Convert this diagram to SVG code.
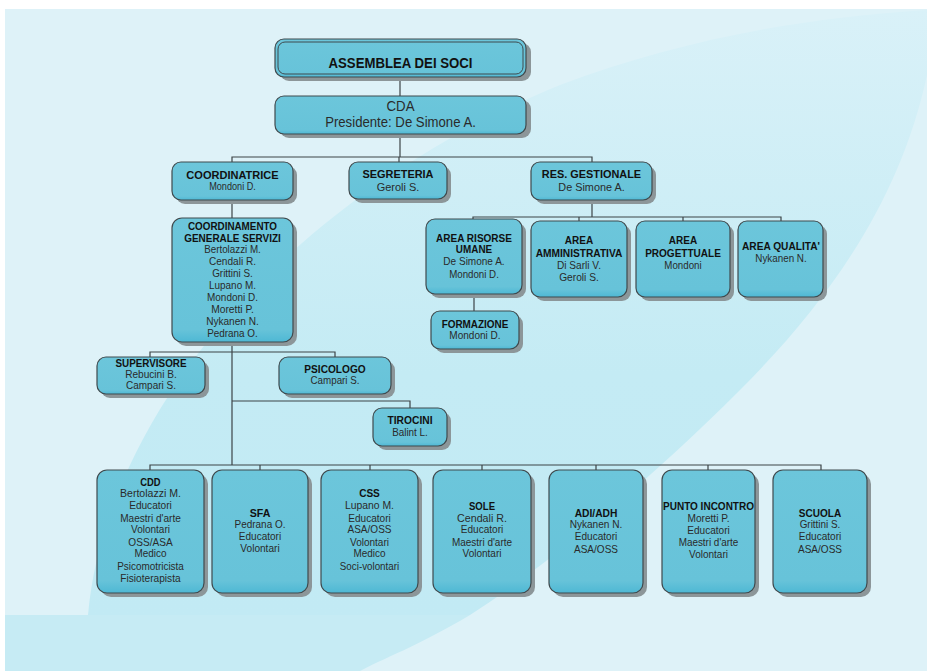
<svg xmlns="http://www.w3.org/2000/svg" width="927" height="671" viewBox="0 0 927 671">
<defs>
<linearGradient id="sw" x1="0" y1="0" x2="0" y2="1">
<stop offset="0" stop-color="#d9f1f8"/>
<stop offset="0.6" stop-color="#c4ebf4"/>
<stop offset="1" stop-color="#c2eaf4"/>
</linearGradient>
<linearGradient id="bx" x1="0" y1="0" x2="0" y2="1">
<stop offset="0" stop-color="#6cc6db"/>
<stop offset="0.9" stop-color="#67c3d9"/>
<stop offset="1" stop-color="#4eb8d4"/>
</linearGradient>
</defs>
<style>
.box{fill:url(#bx);stroke:#3f4a4e;stroke-width:1.2}
.in{fill:none;stroke:#3f4a4e;stroke-width:1}
.sh{fill:#8c9699}
.c{fill:none;stroke:#3c4447;stroke-width:1.2}
.t{font-family:"Liberation Sans",Arial,sans-serif;font-size:11px;font-weight:bold;fill:#111;text-anchor:middle}
.n{font-family:"Liberation Sans",Arial,sans-serif;font-size:10.5px;fill:#2a2a2a;text-anchor:middle}
.big{font-size:14px}
</style>
<rect x="0" y="0" width="927" height="671" fill="#ffffff"/>
<rect x="5" y="9" width="922" height="662" fill="#def2f8"/>
<path d="M5,615 L470,615 C420,645 380,660 360,671 L5,671 Z" fill="#c6ebf4"/>
<path d="M88,615 C105,420 280,200 560,85 C680,40 800,18 927,10 L927,75 C900,200 830,300 740,390 C640,490 540,570 470,615 Z" fill="url(#sw)"/>

<g id="connectors">
<path class="c" d="M400,77 V96"/>
<path class="c" d="M400,134 V157"/>
<path class="c" d="M232,162 V157 H592 V162"/>
<path class="c" d="M399,157 V162"/>
<path class="c" d="M592,200 V217"/>
<path class="c" d="M473,219 V217 H781 V221"/>
<path class="c" d="M579,217 V221"/>
<path class="c" d="M683,217 V221"/>
<path class="c" d="M474,294 V311"/>
<path class="c" d="M232,200 V218"/>
<path class="c" d="M232,342 V465"/>
<path class="c" d="M150,357 V352 H335 V357"/>
<path class="c" d="M232,401 H410 V408"/>
<path class="c" d="M150,470 V465 H821 V470"/>
<path class="c" d="M260,465 V470 M370,465 V470 M482,465 V470 M596,465 V470 M708,465 V470"/>
</g>

<g id="assemblea">
<rect class="sh" x="280" y="43" width="251" height="38" rx="9"/>
<rect class="box" x="275" y="39" width="251" height="38" rx="9"/>
<rect class="in" x="278" y="42" width="245" height="32" rx="7"/>
<text class="t big" x="400.5" y="68.3" textLength="144" lengthAdjust="spacingAndGlyphs">ASSEMBLEA DEI SOCI</text>
</g>

<g id="cda">
<rect class="sh" x="280" y="100" width="251" height="38" rx="9"/>
<rect class="box" x="275" y="96" width="251" height="38" rx="9"/>
<text class="n big" x="400.5" y="111" textLength="28" lengthAdjust="spacingAndGlyphs">CDA</text>
<text class="n big" x="400.5" y="126.7" textLength="150.7" lengthAdjust="spacingAndGlyphs">Presidente: De Simone A.</text>
</g>

<g id="coordinatrice">
<rect class="sh" x="176" y="166" width="121" height="38" rx="9"/>
<rect class="box" x="172" y="162" width="121" height="38" rx="9"/>
<text class="t" x="232.5" y="179" textLength="92.3" lengthAdjust="spacingAndGlyphs">COORDINATRICE</text>
<text class="n" x="232.5" y="190" textLength="46.7" lengthAdjust="spacingAndGlyphs">Mondoni D.</text>
</g>

<g id="segreteria">
<rect class="sh" x="353" y="166" width="98" height="37" rx="9"/>
<rect class="box" x="349" y="162" width="98" height="37" rx="9"/>
<text class="t" x="398" y="178" textLength="71" lengthAdjust="spacingAndGlyphs">SEGRETERIA</text>
<text class="n" x="398" y="190.7" textLength="42.7" lengthAdjust="spacingAndGlyphs">Geroli S.</text>
</g>

<g id="res-gestionale">
<rect class="sh" x="535" y="166" width="121" height="38" rx="9"/>
<rect class="box" x="531" y="162" width="121" height="38" rx="9"/>
<text class="t" x="591.5" y="178.3" textLength="99.3" lengthAdjust="spacingAndGlyphs">RES. GESTIONALE</text>
<text class="n" x="591.5" y="190.7" textLength="66.3" lengthAdjust="spacingAndGlyphs">De Simone A.</text>
</g>

<g id="area-risorse-umane">
<rect class="sh" x="430" y="223" width="96" height="75" rx="9"/>
<rect class="box" x="426" y="219" width="96" height="75" rx="9"/>
<text class="t" x="474" y="241.7" textLength="76" lengthAdjust="spacingAndGlyphs">AREA RISORSE</text>
<text class="t" x="474" y="253.3" textLength="36.3" lengthAdjust="spacingAndGlyphs">UMANE</text>
<text class="n" x="474" y="265" textLength="61.3" lengthAdjust="spacingAndGlyphs">De Simone A.</text>
<text class="n" x="474" y="277.7" textLength="49.7" lengthAdjust="spacingAndGlyphs">Mondoni D.</text>
</g>

<g id="area-amministrativa">
<rect class="sh" x="535" y="225" width="96" height="76" rx="9"/>
<rect class="box" x="531" y="221" width="96" height="76" rx="9"/>
<text class="t" x="579" y="244" textLength="28.3" lengthAdjust="spacingAndGlyphs">AREA</text>
<text class="t" x="579" y="256.7" textLength="86.7" lengthAdjust="spacingAndGlyphs">AMMINISTRATIVA</text>
<text class="n" x="579" y="269.3" textLength="44" lengthAdjust="spacingAndGlyphs">Di Sarli V.</text>
<text class="n" x="579" y="280.7" textLength="39.7" lengthAdjust="spacingAndGlyphs">Geroli S.</text>
</g>

<g id="area-progettuale">
<rect class="sh" x="640" y="225" width="94" height="76" rx="9"/>
<rect class="box" x="636" y="221" width="94" height="76" rx="9"/>
<text class="t" x="683" y="244" textLength="28.3" lengthAdjust="spacingAndGlyphs">AREA</text>
<text class="t" x="683" y="256.7" textLength="75.7" lengthAdjust="spacingAndGlyphs">PROGETTUALE</text>
<text class="n" x="683" y="269" textLength="37.3" lengthAdjust="spacingAndGlyphs">Mondoni</text>
</g>

<g id="area-qualita">
<rect class="sh" x="742" y="225" width="85" height="76" rx="9"/>
<rect class="box" x="738" y="221" width="85" height="76" rx="9"/>
<text class="t" x="781" y="250" textLength="78" lengthAdjust="spacingAndGlyphs">AREA QUALITA'</text>
<text class="n" x="781" y="261.7" textLength="51.3" lengthAdjust="spacingAndGlyphs">Nykanen N.</text>
</g>

<g id="formazione">
<rect class="sh" x="435" y="315" width="88" height="38" rx="9"/>
<rect class="box" x="431" y="311" width="88" height="38" rx="9"/>
<text class="t" x="475" y="327.7" textLength="66.7" lengthAdjust="spacingAndGlyphs">FORMAZIONE</text>
<text class="n" x="475" y="339.3" textLength="51.3" lengthAdjust="spacingAndGlyphs">Mondoni D.</text>
</g>

<g id="coordinamento">
<rect class="sh" x="176" y="222" width="121" height="124" rx="10"/>
<rect class="box" x="172" y="218" width="121" height="124" rx="10"/>
<text class="t" x="232.5" y="230" textLength="89" lengthAdjust="spacingAndGlyphs">COORDINAMENTO</text>
<text class="t" x="232.5" y="242" textLength="96.7" lengthAdjust="spacingAndGlyphs">GENERALE SERVIZI</text>
<text class="n" x="232.5" y="253.3" textLength="56.7" lengthAdjust="spacingAndGlyphs">Bertolazzi M.</text>
<text class="n" x="232.5" y="265.3" textLength="47" lengthAdjust="spacingAndGlyphs">Cendali R.</text>
<text class="n" x="232.5" y="277" textLength="40.7" lengthAdjust="spacingAndGlyphs">Grittini S.</text>
<text class="n" x="232.5" y="289" textLength="47" lengthAdjust="spacingAndGlyphs">Lupano M.</text>
<text class="n" x="232.5" y="300.7" textLength="51" lengthAdjust="spacingAndGlyphs">Mondoni D.</text>
<text class="n" x="232.5" y="312.7" textLength="42.7" lengthAdjust="spacingAndGlyphs">Moretti P.</text>
<text class="n" x="232.5" y="325" textLength="52.7" lengthAdjust="spacingAndGlyphs">Nykanen N.</text>
<text class="n" x="232.5" y="336.7" textLength="50.7" lengthAdjust="spacingAndGlyphs">Pedrana O.</text>
</g>

<g id="supervisore">
<rect class="sh" x="101" y="361" width="108" height="37" rx="9"/>
<rect class="box" x="97" y="357" width="108" height="37" rx="9"/>
<text class="t" x="151" y="366.7" textLength="71" lengthAdjust="spacingAndGlyphs">SUPERVISORE</text>
<text class="n" x="151" y="378.3" textLength="51.7" lengthAdjust="spacingAndGlyphs">Rebucini B.</text>
<text class="n" x="151" y="389.3" textLength="50" lengthAdjust="spacingAndGlyphs">Campari S.</text>
</g>

<g id="psicologo">
<rect class="sh" x="283" y="361" width="112" height="37" rx="9"/>
<rect class="box" x="279" y="357" width="112" height="37" rx="9"/>
<text class="t" x="335" y="372.7" textLength="61.3" lengthAdjust="spacingAndGlyphs">PSICOLOGO</text>
<text class="n" x="335" y="384.3" textLength="49" lengthAdjust="spacingAndGlyphs">Campari S.</text>
</g>

<g id="tirocini">
<rect class="sh" x="377" y="412" width="74" height="38" rx="9"/>
<rect class="box" x="373" y="408" width="74" height="38" rx="9"/>
<text class="t" x="410" y="424.3" textLength="45" lengthAdjust="spacingAndGlyphs">TIROCINI</text>
<text class="n" x="410" y="436" textLength="35.7" lengthAdjust="spacingAndGlyphs">Balint L.</text>
</g>

<g id="cdd">
<rect class="sh" x="101" y="474" width="107" height="123" rx="10"/>
<rect class="box" x="97" y="470" width="107" height="123" rx="10"/>
<text class="t" x="150.5" y="486" textLength="20.3" lengthAdjust="spacingAndGlyphs">CDD</text>
<text class="n" x="150.5" y="497.3" textLength="61" lengthAdjust="spacingAndGlyphs">Bertolazzi M.</text>
<text class="n" x="150.5" y="509.3" textLength="42.7" lengthAdjust="spacingAndGlyphs">Educatori</text>
<text class="n" x="150.5" y="521.7" textLength="60.7" lengthAdjust="spacingAndGlyphs">Maestri d'arte</text>
<text class="n" x="150.5" y="533.3" textLength="39" lengthAdjust="spacingAndGlyphs">Volontari</text>
<text class="n" x="150.5" y="546" textLength="44.3" lengthAdjust="spacingAndGlyphs">OSS/ASA</text>
<text class="n" x="150.5" y="557.3" textLength="32" lengthAdjust="spacingAndGlyphs">Medico</text>
<text class="n" x="150.5" y="570" textLength="66.7" lengthAdjust="spacingAndGlyphs">Psicomotricista</text>
<text class="n" x="150.5" y="581.7" textLength="60.3" lengthAdjust="spacingAndGlyphs">Fisioterapista</text>
</g>

<g id="sfa">
<rect class="sh" x="216" y="474" width="96" height="123" rx="10"/>
<rect class="box" x="212" y="470" width="96" height="123" rx="10"/>
<text class="t" x="260" y="516.7" textLength="20.7" lengthAdjust="spacingAndGlyphs">SFA</text>
<text class="n" x="260" y="528.3" textLength="51" lengthAdjust="spacingAndGlyphs">Pedrana O.</text>
<text class="n" x="260" y="540" textLength="42.3" lengthAdjust="spacingAndGlyphs">Educatori</text>
<text class="n" x="260" y="551.7" textLength="39.3" lengthAdjust="spacingAndGlyphs">Volontari</text>
</g>

<g id="css">
<rect class="sh" x="325" y="474" width="97" height="123" rx="10"/>
<rect class="box" x="321" y="470" width="97" height="123" rx="10"/>
<text class="t" x="369.5" y="497.3" textLength="20.7" lengthAdjust="spacingAndGlyphs">CSS</text>
<text class="n" x="369.5" y="509.3" textLength="49" lengthAdjust="spacingAndGlyphs">Lupano M.</text>
<text class="n" x="369.5" y="521.7" textLength="42.5" lengthAdjust="spacingAndGlyphs">Educatori</text>
<text class="n" x="369.5" y="533.3" textLength="44" lengthAdjust="spacingAndGlyphs">ASA/OSS</text>
<text class="n" x="369.5" y="546" textLength="39" lengthAdjust="spacingAndGlyphs">Volontari</text>
<text class="n" x="369.5" y="557.3" textLength="32" lengthAdjust="spacingAndGlyphs">Medico</text>
<text class="n" x="369.5" y="570" textLength="59.3" lengthAdjust="spacingAndGlyphs">Soci-volontari</text>
</g>

<g id="sole">
<rect class="sh" x="437" y="474" width="98" height="123" rx="10"/>
<rect class="box" x="433" y="470" width="98" height="123" rx="10"/>
<text class="t" x="482" y="510" textLength="26" lengthAdjust="spacingAndGlyphs">SOLE</text>
<text class="n" x="482" y="522" textLength="50" lengthAdjust="spacingAndGlyphs">Cendali R.</text>
<text class="n" x="482" y="533.3" textLength="42.5" lengthAdjust="spacingAndGlyphs">Educatori</text>
<text class="n" x="482" y="546" textLength="60" lengthAdjust="spacingAndGlyphs">Maestri d'arte</text>
<text class="n" x="482" y="557.3" textLength="39" lengthAdjust="spacingAndGlyphs">Volontari</text>
</g>

<g id="adi-adh">
<rect class="sh" x="553" y="474" width="94" height="123" rx="10"/>
<rect class="box" x="549" y="470" width="94" height="123" rx="10"/>
<text class="t" x="596" y="516.7" textLength="42.7" lengthAdjust="spacingAndGlyphs">ADI/ADH</text>
<text class="n" x="596" y="528.3" textLength="52.7" lengthAdjust="spacingAndGlyphs">Nykanen N.</text>
<text class="n" x="596" y="540" textLength="42.5" lengthAdjust="spacingAndGlyphs">Educatori</text>
<text class="n" x="596" y="552.7" textLength="44" lengthAdjust="spacingAndGlyphs">ASA/OSS</text>
</g>

<g id="punto-incontro">
<rect class="sh" x="666" y="474" width="93" height="123" rx="10"/>
<rect class="box" x="662" y="470" width="93" height="123" rx="10"/>
<text class="t" x="708.5" y="510" textLength="91" lengthAdjust="spacingAndGlyphs">PUNTO INCONTRO</text>
<text class="n" x="708.5" y="522.3" textLength="42" lengthAdjust="spacingAndGlyphs">Moretti P.</text>
<text class="n" x="708.5" y="534" textLength="42.5" lengthAdjust="spacingAndGlyphs">Educatori</text>
<text class="n" x="708.5" y="546" textLength="59.7" lengthAdjust="spacingAndGlyphs">Maestri d'arte</text>
<text class="n" x="708.5" y="558.3" textLength="39" lengthAdjust="spacingAndGlyphs">Volontari</text>
</g>

<g id="scuola">
<rect class="sh" x="777" y="474" width="94" height="123" rx="10"/>
<rect class="box" x="773" y="470" width="94" height="123" rx="10"/>
<text class="t" x="820" y="516.7" textLength="42.3" lengthAdjust="spacingAndGlyphs">SCUOLA</text>
<text class="n" x="820" y="528.3" textLength="40.7" lengthAdjust="spacingAndGlyphs">Grittini S.</text>
<text class="n" x="820" y="540" textLength="42.5" lengthAdjust="spacingAndGlyphs">Educatori</text>
<text class="n" x="820" y="552.7" textLength="44" lengthAdjust="spacingAndGlyphs">ASA/OSS</text>
</g>
</svg>
